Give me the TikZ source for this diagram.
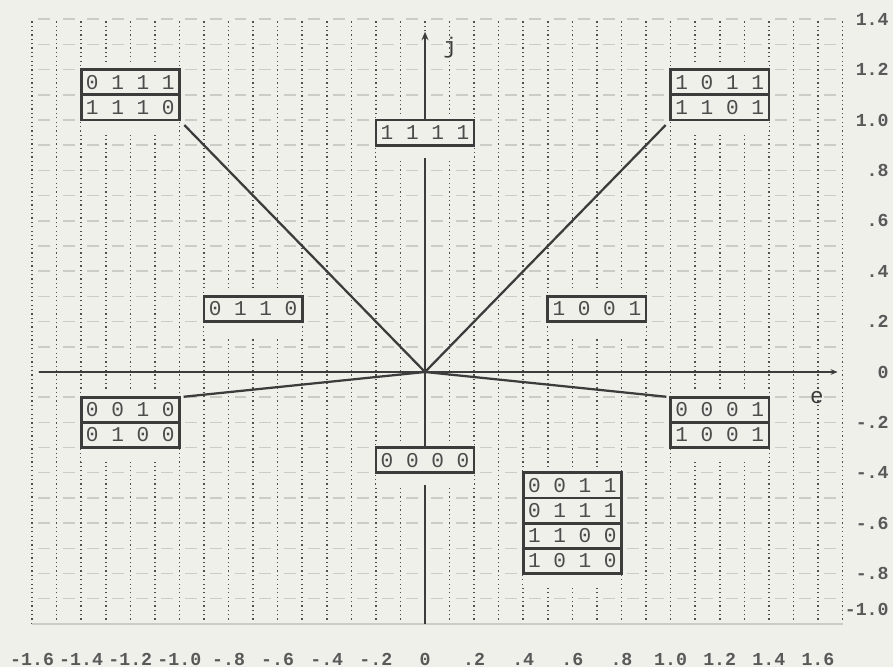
\documentclass[tikz,border=0pt]{standalone}
\usepackage{fontspec}
\usepackage{tikz}
\usetikzlibrary{positioning, arrows.meta, backgrounds}
\newfontfamily\plotfont{Liberation Mono}
\definecolor{paper}{RGB}{240,240,234}
\definecolor{myink}{RGB}{60,60,60}
\definecolor{mygrid}{RGB}{80,80,80}
\definecolor{mydash}{RGB}{204,204,198}
\tikzset{
  cell/.style={rectangle, draw=myink, fill=paper, line width=1.9pt,
    minimum width=2.456cm, minimum height=0.63cm, inner sep=0pt, outer sep=0pt,
    font=\plotfont\fontsize{15}{17}\selectfont, text=black!70},
  gridv/.style={mygrid, line width=1.1pt, dash pattern=on 0.9pt off 2.2pt},
  gridh/.style={mydash, line width=1pt, dash pattern=on 8.5pt off 8.97pt},
  axis/.style={myink, line width=1.4pt},
  ray/.style={myink, line width=1.6pt},
  ticklbl/.style={font=\plotfont\bfseries\fontsize{13}{15}\selectfont, text=black!65, inner sep=0pt},
  axlabel/.style={font=\plotfont\fontsize{16}{18}\selectfont, text=myink}
}

\begin{document}
\begin{tikzpicture}[x=6.14cm, y=6.3cm]
  \useasboundingbox (-1.7305,-1.1706) rectangle (1.9055,1.4762);

  % Paper and grid
  \begin{scope}[on background layer]
    \fill[paper] (-1.7305,-1.1706) rectangle (1.9055,1.4762);
    \foreach \i in {-16,...,17}
      \draw[gridv] ({\i/10},-1) -- ({\i/10},1.4);
    \foreach \j in {-9,...,14}
      \draw[gridh] (-1.5756,{\j/10}) -- (1.7,{\j/10});
    \draw[mydash, line width=1pt] (-1.6,-1) -- (1.7,-1);
  \end{scope}

  % State boxes
  \node[cell] (ul1) at (-1.2,1.15) {0 1 1 1};
  \node[cell, below=0pt of ul1] (ul2) {1 1 1 0};
  \node[cell] (ur1) at (1.2,1.15) {1 0 1 1};
  \node[cell, below=0pt of ur1] (ur2) {1 1 0 1};
  \node[cell] (top) at (0,0.95) {1 1 1 1};
  \node[cell] (midl) at (-0.7,0.25) {0 1 1 0};
  \node[cell] (midr) at (0.7,0.25) {1 0 0 1};
  \node[cell] (ll1) at (-1.2,-0.15) {0 0 1 0};
  \node[cell, below=0pt of ll1] (ll2) {0 1 0 0};
  \node[cell] (lr1) at (1.2,-0.15) {0 0 0 1};
  \node[cell, below=0pt of lr1] (lr2) {1 0 0 1};
  \node[cell] (bot) at (0,-0.35) {0 0 0 0};
  \node[cell] (br1) at (0.6,-0.45) {0 0 1 1};
  \node[cell, below=0pt of br1] (br2) {0 1 1 1};
  \node[cell, below=0pt of br2] (br3) {1 1 0 0};
  \node[cell, below=0pt of br3] (br4) {1 0 1 0};

  % Clear the grid round the boxes
  \begin{scope}[on background layer]
    \foreach \a/\b in {ul1/ul2, ur1/ur2, top/top, midl/midl, midr/midr,
                       ll1/ll2, lr1/lr2, bot/bot, br1/br4}
      \fill[paper] ([yshift=4pt]\a.north west) rectangle ([yshift=-10pt]\b.south east);
  \end{scope}

  % Axes
  \coordinate (O) at (0,0);
  \coordinate (eL) at (-1.57,0);
  \coordinate (eR) at (1.68,0);
  \coordinate (jB) at (0,-1);
  \coordinate (jT) at (0,1.35);
  \draw[axis, -{Stealth[length=5pt,width=4pt]}] (eL) -- (eR);
  \draw[axis] (jB) -- ([yshift=-9pt]bot.south);
  \draw[axis] (bot.north) -- ([yshift=-9pt]top.south);
  \draw[axis, -{Stealth[length=6pt,width=5pt]}] (top.north) -- (jT);
  \node[axlabel] (jlab) at (0.102,1.285) {j};
  \node[axlabel] (elab) at (1.596,-0.103) {e};

  % Rays to the corner boxes
  \draw[ray, shorten >=5pt] (O) -- (ul2.south east);
  \draw[ray, shorten >=5pt] (O) -- (ur2.south west);
  \draw[ray, shorten >=3pt] (O) -- (ll1.north east);
  \draw[ray, shorten >=3pt] (O) -- (lr1.north west);

  % Scale labels
  \foreach \v/\t [count=\k] in {-1.6/-1.6, -1.4/-1.4, -1.2/-1.2, -1.0/-1.0,
      -0.8/-.8, -0.6/-.6, -0.4/-.4, -0.2/-.2, 0/0, 0.2/.2, 0.4/.4, 0.6/.6,
      0.8/.8, 1.0/1.0, 1.2/1.2, 1.4/1.4, 1.6/1.6}
    \node[ticklbl] (xt\k) at (\v,-1.139) {\t};
  \foreach \v/\t [count=\k] in {1.4/1.4, 1.2/1.2, 1.0/1.0, 0.8/.8, 0.6/.6,
      0.4/.4, 0.2/.2, 0/0, -0.2/-.2, -0.4/-.4, -0.6/-.6, -0.8/-.8, -0.944/-1.0}
    \node[ticklbl, anchor=east] (yt\k) at (1.889,\v) {\t};
\end{tikzpicture}
\end{document}
